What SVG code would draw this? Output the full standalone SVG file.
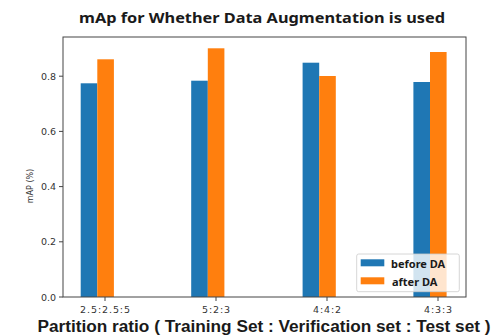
<svg xmlns="http://www.w3.org/2000/svg" width="498" height="335" viewBox="0 0 498 335">
<style>
.title{font-family:"Noto Sans","Liberation Sans",sans-serif;font-weight:bold;font-size:14px;fill:#1a1a1a}
.xl{font-family:"Liberation Sans",sans-serif;font-weight:bold;font-size:16px;fill:#1a1a1a}
.tk{font-family:"DejaVu Sans","Liberation Sans",sans-serif;font-size:9.5px;fill:#333}
.xt{letter-spacing:0.9px}
.yl{font-family:"DejaVu Sans","Liberation Sans",sans-serif;font-size:8px;fill:#333}
.lg{font-family:"Noto Sans","Liberation Sans",sans-serif;font-weight:bold;font-size:11px;fill:#1a1a1a}
.b{fill:#1f77b4}
.o{fill:#ff7f0e}
.ax{stroke:#444;stroke-width:1;fill:none}
</style>
<rect width="498" height="335" fill="#fff"/>
<text class="title" x="262" y="23" text-anchor="middle" textLength="366" lengthAdjust="spacingAndGlyphs">mAp for Whether Data Augmentation is used</text>
<g id="bars">
<rect class="b" x="80.7" y="83.3" width="16.6" height="213.7"/>
<rect class="o" x="97.3" y="59.3" width="16.6" height="237.7"/>
<rect class="b" x="191.2" y="80.7" width="16.6" height="216.3"/>
<rect class="o" x="207.8" y="48.3" width="16.6" height="248.7"/>
<rect class="b" x="302.6" y="62.7" width="16.6" height="234.3"/>
<rect class="o" x="319.2" y="76" width="16.6" height="221"/>
<rect class="b" x="413.4" y="82" width="16.6" height="215"/>
<rect class="o" x="430" y="52" width="16.6" height="245"/>
</g>
<g id="axes">
<rect class="ax" x="63" y="37" width="403" height="260"/>
<path class="ax" d="M59 297H63M59 241.8H63M59 186.6H63M59 131.4H63M59 76.2H63M105 297V301M216 297V301M327 297V301M438 297V301"/>
<text class="tk" x="56" y="300.5" text-anchor="end">0.0</text>
<text class="tk" x="56" y="245.3" text-anchor="end">0.2</text>
<text class="tk" x="56" y="190.1" text-anchor="end">0.4</text>
<text class="tk" x="56" y="134.9" text-anchor="end">0.6</text>
<text class="tk" x="56" y="79.7" text-anchor="end">0.8</text>
<text class="tk xt" x="105.5" y="313" text-anchor="middle">2.5:2.5:5</text>
<text class="tk xt" x="216.5" y="313" text-anchor="middle">5:2:3</text>
<text class="tk xt" x="327.5" y="313" text-anchor="middle">4:4:2</text>
<text class="tk xt" x="438.5" y="313" text-anchor="middle">4:3:3</text>
<text class="yl" transform="translate(33,186) rotate(-90)" text-anchor="middle">mAP (%)</text>
</g>
<g id="legend">
<rect x="356.7" y="254" width="102.6" height="37.7" rx="2" fill="#fff" fill-opacity="0.8" stroke="#ccc" stroke-width="0.8"/>
<rect class="b" x="360.7" y="259.3" width="23.6" height="7"/>
<rect class="o" x="360.7" y="277.3" width="23.6" height="7"/>
<text class="lg" x="391" y="267.5">before DA</text>
<text class="lg" x="392" y="285.5">after DA</text>
</g>
<text class="xl" x="264" y="331.5" text-anchor="middle" textLength="453" lengthAdjust="spacingAndGlyphs">Partition ratio ( Training Set : Verification set : Test set )</text>
</svg>
